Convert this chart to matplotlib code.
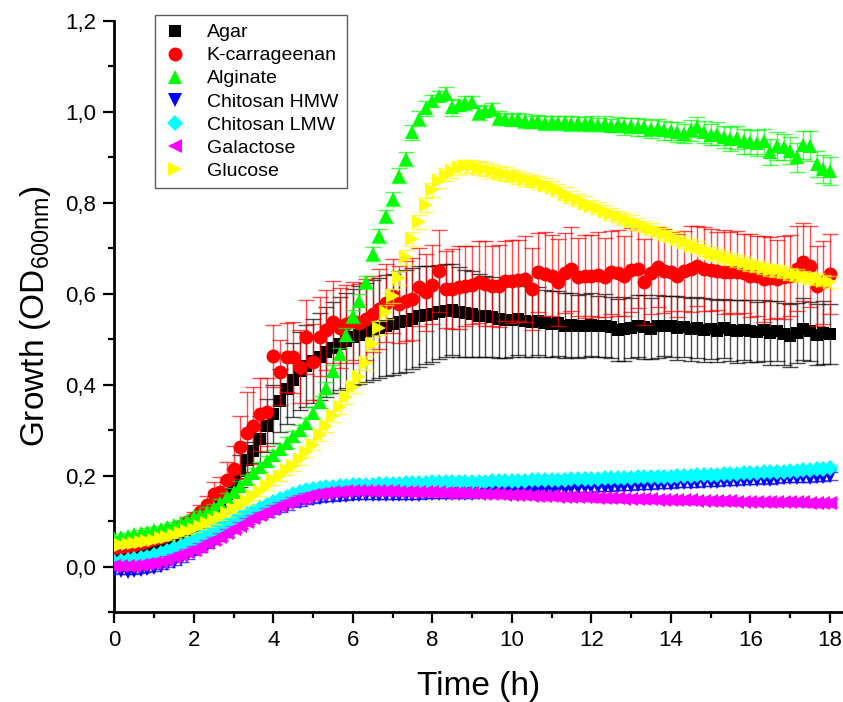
import numpy as np
import matplotlib.pyplot as plt
from matplotlib.colors import to_rgba
from matplotlib.lines import Line2D
from matplotlib.ticker import MultipleLocator, FuncFormatter

plt.rcParams['font.family'] = ['Liberation Sans', 'DejaVu Sans']
plt.rcParams['mathtext.default'] = 'regular'

# OD readings every 10 min for 18 h
time_h = np.arange(109) * 10 / 60

agar = [
    0.030, 0.032, 0.034, 0.037, 0.040, 0.044, 0.048, 0.053, 0.058, 0.064, 0.071, 0.079,
    0.088, 0.098, 0.110, 0.124, 0.140, 0.160, 0.185, 0.210, 0.235, 0.255, 0.280, 0.310,
    0.335, 0.365, 0.390, 0.410, 0.430, 0.442, 0.452, 0.462, 0.472, 0.481, 0.490, 0.497,
    0.505, 0.510, 0.515, 0.520, 0.525, 0.530, 0.533, 0.537, 0.540, 0.545, 0.550, 0.553,
    0.556, 0.560, 0.563, 0.565, 0.560, 0.557, 0.555, 0.552, 0.550, 0.548, 0.545, 0.543,
    0.542, 0.545, 0.540, 0.538, 0.540, 0.535, 0.533, 0.535, 0.530, 0.532, 0.528, 0.530,
    0.532, 0.528, 0.530, 0.526, 0.520, 0.522, 0.525, 0.530, 0.527, 0.523, 0.528, 0.530,
    0.528, 0.524, 0.526, 0.522, 0.525, 0.520, 0.522, 0.518, 0.524, 0.520, 0.517, 0.521,
    0.519, 0.516, 0.520, 0.514, 0.518, 0.512, 0.508, 0.513, 0.522, 0.517, 0.510, 0.514,
    0.512]
agar_err = [
    0.006, 0.006, 0.006, 0.007, 0.007, 0.007, 0.008, 0.008, 0.009, 0.009, 0.010, 0.011,
    0.012, 0.014, 0.016, 0.019, 0.022, 0.026, 0.030, 0.035, 0.040, 0.046, 0.052, 0.058,
    0.064, 0.070, 0.076, 0.082, 0.086, 0.090, 0.093, 0.096, 0.098, 0.100, 0.102, 0.104,
    0.106, 0.108, 0.109, 0.110, 0.110, 0.111, 0.111, 0.112, 0.112, 0.111, 0.110, 0.108,
    0.106, 0.104, 0.102, 0.100, 0.098, 0.096, 0.094, 0.092, 0.090, 0.088, 0.086, 0.084,
    0.082, 0.080, 0.078, 0.076, 0.075, 0.074, 0.073, 0.072, 0.071, 0.070, 0.070, 0.069,
    0.069, 0.068, 0.070, 0.067, 0.068, 0.070, 0.066, 0.068, 0.071, 0.067, 0.069, 0.066,
    0.068, 0.070, 0.066, 0.069, 0.067, 0.070, 0.066, 0.068, 0.065, 0.067, 0.069, 0.066,
    0.068, 0.065, 0.067, 0.070, 0.066, 0.068, 0.070, 0.066, 0.068, 0.064, 0.067, 0.069,
    0.066]

kcarrageenan = [
    0.040, 0.042, 0.045, 0.048, 0.052, 0.056, 0.060, 0.066, 0.072, 0.080, 0.088, 0.097,
    0.107, 0.120, 0.135, 0.160, 0.165, 0.190, 0.215, 0.262, 0.294, 0.310, 0.335, 0.340,
    0.463, 0.427, 0.460, 0.460, 0.440, 0.505, 0.450, 0.506, 0.520, 0.537, 0.525, 0.533,
    0.540, 0.535, 0.544, 0.555, 0.566, 0.580, 0.595, 0.577, 0.585, 0.588, 0.614, 0.603,
    0.620, 0.650, 0.610, 0.610, 0.614, 0.617, 0.620, 0.625, 0.622, 0.618, 0.617, 0.628,
    0.627, 0.630, 0.632, 0.610, 0.647, 0.643, 0.640, 0.625, 0.645, 0.654, 0.636, 0.638,
    0.640, 0.642, 0.636, 0.647, 0.645, 0.640, 0.652, 0.654, 0.626, 0.645, 0.658, 0.650,
    0.648, 0.640, 0.650, 0.655, 0.660, 0.655, 0.652, 0.650, 0.648, 0.647, 0.647, 0.645,
    0.640, 0.638, 0.632, 0.635, 0.632, 0.636, 0.640, 0.655, 0.670, 0.660, 0.617, 0.625,
    0.643]
kcarrageenan_err = [
    0.006, 0.006, 0.007, 0.007, 0.008, 0.008, 0.009, 0.009, 0.010, 0.011, 0.012, 0.013,
    0.014, 0.016, 0.020, 0.025, 0.032, 0.040, 0.050, 0.070, 0.090, 0.085, 0.080, 0.075,
    0.068, 0.072, 0.075, 0.078, 0.080, 0.082, 0.084, 0.086, 0.088, 0.090, 0.088, 0.086,
    0.085, 0.087, 0.089, 0.084, 0.088, 0.086, 0.082, 0.085, 0.088, 0.090, 0.086, 0.084,
    0.087, 0.090, 0.085, 0.088, 0.092, 0.089, 0.086, 0.090, 0.093, 0.088, 0.091, 0.087,
    0.092, 0.089, 0.094, 0.090, 0.087, 0.093, 0.090, 0.095, 0.088, 0.092, 0.086, 0.091,
    0.089, 0.093, 0.087, 0.091, 0.095, 0.088, 0.092, 0.086, 0.094, 0.090, 0.088, 0.093,
    0.087, 0.091, 0.089, 0.095, 0.088, 0.092, 0.090, 0.086, 0.093, 0.089, 0.091, 0.087,
    0.092, 0.088, 0.094, 0.090, 0.086, 0.091, 0.089, 0.093, 0.085, 0.090, 0.087, 0.092,
    0.088]

alginate = [
    0.062, 0.065, 0.068, 0.071, 0.074, 0.077, 0.080, 0.083, 0.087, 0.091, 0.095, 0.101,
    0.108, 0.114, 0.121, 0.129, 0.140, 0.152, 0.163, 0.178, 0.192, 0.206, 0.220, 0.233,
    0.245, 0.258, 0.272, 0.287, 0.300, 0.315, 0.338, 0.362, 0.392, 0.430, 0.468, 0.510,
    0.550, 0.585, 0.625, 0.687, 0.727, 0.770, 0.808, 0.860, 0.896, 0.955, 0.985, 1.008,
    1.025, 1.035, 1.040, 1.010, 1.015, 1.020, 1.022, 0.998, 1.003, 1.006, 0.986, 0.985,
    0.982, 0.985, 0.980, 0.978, 0.980, 0.976, 0.978, 0.975, 0.977, 0.974, 0.976, 0.973,
    0.975, 0.972, 0.974, 0.970, 0.972, 0.968, 0.970, 0.967, 0.966, 0.963, 0.965, 0.960,
    0.958, 0.955, 0.952, 0.960, 0.966, 0.956, 0.950, 0.952, 0.945, 0.940, 0.943, 0.935,
    0.934, 0.932, 0.935, 0.912, 0.925, 0.923, 0.915, 0.900, 0.928, 0.925, 0.885, 0.875,
    0.870]
alginate_err = [
    0.006, 0.006, 0.006, 0.006, 0.007, 0.007, 0.007, 0.007, 0.007, 0.008, 0.008, 0.008,
    0.008, 0.008, 0.009, 0.009, 0.009, 0.009, 0.010, 0.010, 0.010, 0.010, 0.011, 0.011,
    0.011, 0.011, 0.012, 0.012, 0.012, 0.012, 0.012, 0.013, 0.013, 0.013, 0.013, 0.014,
    0.014, 0.014, 0.014, 0.015, 0.015, 0.015, 0.015, 0.016, 0.016, 0.016, 0.016, 0.017,
    0.012, 0.010, 0.014, 0.018, 0.012, 0.015, 0.013, 0.016, 0.012, 0.014, 0.015, 0.013,
    0.014, 0.012, 0.015, 0.013, 0.014, 0.016, 0.013, 0.015, 0.014, 0.016, 0.013, 0.015,
    0.016, 0.014, 0.017, 0.015, 0.016, 0.018, 0.017, 0.019, 0.018, 0.020, 0.019, 0.021,
    0.020, 0.022, 0.021, 0.023, 0.022, 0.024, 0.023, 0.025, 0.024, 0.026, 0.025, 0.027,
    0.026, 0.028, 0.027, 0.029, 0.030, 0.028, 0.030, 0.032, 0.031, 0.034, 0.029, 0.031,
    0.030]

chitosan_hmw = [
    -0.008, -0.010, -0.011, -0.010, -0.008, -0.006, -0.003, 0.001, 0.005, 0.011, 0.017, 0.024,
    0.032, 0.040, 0.048, 0.057, 0.065, 0.074, 0.083, 0.092, 0.101, 0.108, 0.114, 0.119,
    0.124, 0.129, 0.134, 0.139, 0.143, 0.146, 0.149, 0.151, 0.153, 0.154, 0.155, 0.156,
    0.157, 0.157, 0.158, 0.158, 0.158, 0.158, 0.158, 0.158, 0.158, 0.158, 0.158, 0.159,
    0.159, 0.159, 0.159, 0.159, 0.160, 0.160, 0.160, 0.161, 0.161, 0.162, 0.163, 0.164,
    0.165, 0.166, 0.167, 0.167, 0.168, 0.169, 0.170, 0.171, 0.171, 0.172, 0.173, 0.174,
    0.174, 0.175, 0.176, 0.176, 0.177, 0.178, 0.178, 0.179, 0.180, 0.180, 0.181, 0.182,
    0.182, 0.183, 0.184, 0.184, 0.185, 0.186, 0.186, 0.187, 0.188, 0.188, 0.189, 0.190,
    0.190, 0.191, 0.192, 0.191, 0.193, 0.194, 0.194, 0.195, 0.196, 0.195, 0.197, 0.198,
    0.200]
chitosan_hmw_err = [
    0.006, 0.006, 0.006, 0.006, 0.006, 0.006, 0.006, 0.007, 0.007, 0.007, 0.007, 0.007,
    0.007, 0.007, 0.008, 0.008, 0.008, 0.008, 0.008, 0.008, 0.008, 0.009, 0.009, 0.009,
    0.009, 0.009, 0.009, 0.009, 0.009, 0.009, 0.009, 0.009, 0.009, 0.009, 0.009, 0.009,
    0.009, 0.009, 0.009, 0.009, 0.009, 0.009, 0.009, 0.009, 0.009, 0.009, 0.009, 0.009,
    0.009, 0.009, 0.009, 0.009, 0.009, 0.009, 0.009, 0.009, 0.009, 0.009, 0.009, 0.009,
    0.009, 0.009, 0.009, 0.009, 0.009, 0.009, 0.009, 0.009, 0.009, 0.009, 0.009, 0.009,
    0.009, 0.009, 0.009, 0.009, 0.009, 0.009, 0.009, 0.009, 0.009, 0.009, 0.009, 0.009,
    0.009, 0.009, 0.009, 0.009, 0.009, 0.009, 0.009, 0.009, 0.009, 0.009, 0.009, 0.009,
    0.009, 0.009, 0.009, 0.009, 0.009, 0.009, 0.009, 0.009, 0.009, 0.009, 0.009, 0.009,
    0.009]

chitosan_lmw = [
    0.010, 0.012, 0.014, 0.016, 0.019, 0.022, 0.026, 0.030, 0.035, 0.040, 0.046, 0.052,
    0.058, 0.065, 0.072, 0.079, 0.086, 0.093, 0.100, 0.108, 0.115, 0.122, 0.129, 0.136,
    0.142, 0.148, 0.154, 0.159, 0.164, 0.168, 0.171, 0.173, 0.175, 0.176, 0.177, 0.178,
    0.179, 0.179, 0.180, 0.180, 0.181, 0.181, 0.182, 0.182, 0.183, 0.183, 0.184, 0.184,
    0.185, 0.185, 0.185, 0.186, 0.186, 0.186, 0.187, 0.187, 0.187, 0.188, 0.188, 0.188,
    0.189, 0.189, 0.189, 0.190, 0.190, 0.190, 0.191, 0.191, 0.191, 0.192, 0.192, 0.192,
    0.193, 0.193, 0.194, 0.194, 0.194, 0.195, 0.195, 0.196, 0.196, 0.197, 0.197, 0.198,
    0.198, 0.199, 0.199, 0.200, 0.201, 0.201, 0.202, 0.202, 0.203, 0.204, 0.204, 0.205,
    0.206, 0.206, 0.207, 0.208, 0.208, 0.209, 0.210, 0.211, 0.212, 0.213, 0.214, 0.215,
    0.217]
chitosan_lmw_err = [
    0.005, 0.005, 0.005, 0.005, 0.005, 0.005, 0.005, 0.005, 0.005, 0.006, 0.006, 0.006,
    0.006, 0.006, 0.006, 0.006, 0.006, 0.006, 0.006, 0.007, 0.007, 0.007, 0.007, 0.007,
    0.007, 0.007, 0.007, 0.007, 0.007, 0.007, 0.007, 0.007, 0.007, 0.007, 0.007, 0.007,
    0.007, 0.007, 0.007, 0.007, 0.007, 0.007, 0.007, 0.007, 0.007, 0.007, 0.007, 0.007,
    0.007, 0.007, 0.007, 0.007, 0.007, 0.007, 0.007, 0.007, 0.007, 0.007, 0.007, 0.007,
    0.007, 0.007, 0.007, 0.007, 0.007, 0.007, 0.007, 0.007, 0.007, 0.007, 0.007, 0.007,
    0.007, 0.007, 0.007, 0.007, 0.007, 0.007, 0.007, 0.007, 0.007, 0.007, 0.007, 0.007,
    0.007, 0.007, 0.007, 0.007, 0.007, 0.007, 0.007, 0.007, 0.007, 0.007, 0.007, 0.007,
    0.007, 0.007, 0.007, 0.007, 0.007, 0.007, 0.007, 0.007, 0.007, 0.007, 0.007, 0.007,
    0.007]

galactose = [
    0.002, 0.001, 0.001, 0.002, 0.003, 0.005, 0.008, 0.011, 0.015, 0.020, 0.025, 0.031,
    0.037, 0.044, 0.051, 0.058, 0.066, 0.074, 0.082, 0.090, 0.098, 0.106, 0.113, 0.120,
    0.127, 0.133, 0.139, 0.144, 0.149, 0.153, 0.157, 0.160, 0.162, 0.164, 0.165, 0.166,
    0.167, 0.167, 0.167, 0.167, 0.166, 0.166, 0.166, 0.165, 0.165, 0.165, 0.164, 0.164,
    0.163, 0.163, 0.162, 0.162, 0.162, 0.161, 0.161, 0.160, 0.160, 0.159, 0.159, 0.158,
    0.158, 0.157, 0.157, 0.156, 0.156, 0.155, 0.155, 0.154, 0.154, 0.153, 0.153, 0.152,
    0.152, 0.151, 0.151, 0.150, 0.150, 0.149, 0.149, 0.149, 0.148, 0.148, 0.147, 0.147,
    0.147, 0.146, 0.146, 0.146, 0.145, 0.145, 0.145, 0.144, 0.144, 0.144, 0.143, 0.143,
    0.143, 0.143, 0.142, 0.142, 0.142, 0.141, 0.141, 0.141, 0.141, 0.140, 0.140, 0.140,
    0.140]
galactose_err = [
    0.008, 0.008, 0.008, 0.008, 0.008, 0.008, 0.008, 0.008, 0.008, 0.008, 0.008, 0.008,
    0.008, 0.008, 0.008, 0.008, 0.008, 0.008, 0.008, 0.008, 0.008, 0.008, 0.008, 0.008,
    0.008, 0.008, 0.008, 0.008, 0.008, 0.008, 0.008, 0.008, 0.008, 0.008, 0.008, 0.008,
    0.008, 0.008, 0.008, 0.008, 0.008, 0.008, 0.008, 0.008, 0.008, 0.008, 0.008, 0.008,
    0.008, 0.008, 0.008, 0.008, 0.008, 0.008, 0.008, 0.008, 0.008, 0.008, 0.008, 0.008,
    0.008, 0.008, 0.008, 0.008, 0.008, 0.008, 0.008, 0.008, 0.008, 0.008, 0.008, 0.008,
    0.008, 0.008, 0.008, 0.008, 0.008, 0.008, 0.008, 0.008, 0.008, 0.008, 0.008, 0.008,
    0.008, 0.008, 0.008, 0.008, 0.008, 0.008, 0.008, 0.008, 0.008, 0.008, 0.008, 0.008,
    0.008, 0.008, 0.008, 0.008, 0.008, 0.008, 0.008, 0.008, 0.008, 0.008, 0.008, 0.008,
    0.008]

glucose = [
    0.045, 0.047, 0.049, 0.051, 0.053, 0.056, 0.059, 0.062, 0.065, 0.069, 0.073, 0.078,
    0.083, 0.089, 0.095, 0.102, 0.110, 0.118, 0.126, 0.135, 0.145, 0.156, 0.166, 0.178,
    0.190, 0.200, 0.212, 0.222, 0.236, 0.252, 0.268, 0.290, 0.310, 0.332, 0.350, 0.372,
    0.395, 0.418, 0.448, 0.490, 0.525, 0.560, 0.595, 0.635, 0.680, 0.720, 0.758, 0.795,
    0.828, 0.848, 0.862, 0.870, 0.876, 0.880, 0.880, 0.877, 0.874, 0.870, 0.866, 0.863,
    0.860, 0.856, 0.852, 0.848, 0.845, 0.840, 0.835, 0.828, 0.820, 0.813, 0.806, 0.800,
    0.794, 0.788, 0.782, 0.776, 0.770, 0.765, 0.760, 0.754, 0.748, 0.742, 0.737, 0.732,
    0.726, 0.720, 0.714, 0.708, 0.702, 0.697, 0.690, 0.685, 0.680, 0.676, 0.672, 0.668,
    0.664, 0.660, 0.656, 0.653, 0.650, 0.647, 0.644, 0.641, 0.638, 0.635, 0.632, 0.629,
    0.626]
glucose_err = [
    0.005, 0.005, 0.005, 0.005, 0.005, 0.005, 0.005, 0.005, 0.006, 0.006, 0.006, 0.006,
    0.007, 0.007, 0.007, 0.008, 0.008, 0.008, 0.009, 0.009, 0.009, 0.010, 0.010, 0.010,
    0.011, 0.011, 0.011, 0.012, 0.012, 0.012, 0.012, 0.013, 0.013, 0.013, 0.014, 0.014,
    0.014, 0.015, 0.015, 0.015, 0.016, 0.016, 0.016, 0.016, 0.016, 0.016, 0.016, 0.016,
    0.016, 0.016, 0.015, 0.015, 0.015, 0.015, 0.015, 0.015, 0.015, 0.015, 0.015, 0.015,
    0.014, 0.014, 0.014, 0.014, 0.014, 0.014, 0.014, 0.014, 0.014, 0.014, 0.014, 0.014,
    0.013, 0.013, 0.013, 0.013, 0.013, 0.013, 0.013, 0.013, 0.013, 0.013, 0.013, 0.013,
    0.013, 0.013, 0.013, 0.013, 0.013, 0.013, 0.013, 0.013, 0.013, 0.013, 0.013, 0.013,
    0.013, 0.013, 0.013, 0.013, 0.013, 0.013, 0.013, 0.013, 0.013, 0.013, 0.013, 0.013,
    0.013]

# label, mean, sd, marker, colour, marker size
series = [
    ('Agar', agar, agar_err, 's', '#000000', 8),
    ('K-carrageenan', kcarrageenan, kcarrageenan_err, 'o', '#ff0000', 10),
    ('Alginate', alginate, alginate_err, '^', '#00ff00', 10.5),
    ('Chitosan HMW', chitosan_hmw, chitosan_hmw_err, 'v', '#0000ff', 10.5),
    ('Chitosan LMW', chitosan_lmw, chitosan_lmw_err, 'D', '#00ffff', 8),
    ('Galactose', galactose, galactose_err, '<', '#ff00ff', 10.5),
    ('Glucose', glucose, glucose_err, '>', '#ffff00', 10.5),
]

fig = plt.figure(figsize=(8.43, 7.02), dpi=100)
ax = fig.add_axes([0.1356, 0.1282, 0.8644, 0.8419])

handles = []
for z, (label, y, err, marker, color, ms) in enumerate(series):
    pts, caps, bars = ax.errorbar(time_h, y, yerr=err, fmt=marker, color=color, ms=ms,
                                  ecolor=to_rgba(color, 0.7), elinewidth=1,
                                  capsize=6, capthick=1, zorder=3 + z)
    pts.set_markeredgewidth(0)
    handles.append(Line2D([], [], ls='none', marker=marker, color=color, ms=ms, mew=0))

ax.set_xlim(0, 18.33)
ax.set_ylim(-0.1, 1.2)
ax.xaxis.set_major_locator(MultipleLocator(2))
ax.xaxis.set_minor_locator(MultipleLocator(1))
ax.yaxis.set_major_locator(MultipleLocator(0.2))
ax.yaxis.set_minor_locator(MultipleLocator(0.1))
ax.yaxis.set_major_formatter(FuncFormatter(lambda v, _: f'{v:.1f}'.replace('.', ',')))

for side in ('top', 'right'):
    ax.spines[side].set_visible(False)
for side in ('left', 'bottom'):
    ax.spines[side].set_linewidth(2)

ax.tick_params(which='major', direction='out', length=8, width=1.6, labelsize=16, pad=5)
ax.tick_params(which='minor', direction='out', length=4.5, width=1.6)

ax.set_xlabel('Time (h)', fontsize=24, labelpad=14)
ax.set_ylabel(r'Growth (OD$_{600nm}$)', fontsize=24, labelpad=9)

leg = ax.legend(handles, [s[0] for s in series], loc='upper left',
                bbox_to_anchor=(155 / 843, 1 - 15 / 702), bbox_transform=fig.transFigure,
                fancybox=False, edgecolor='#333333', fontsize=14, borderpad=0.45,
                labelspacing=0.28, handlelength=1.2, handletextpad=1.0, borderaxespad=0)
leg.get_frame().set_linewidth(1.0)
leg.set_zorder(20)

fig.savefig('out.png', dpi=100)
